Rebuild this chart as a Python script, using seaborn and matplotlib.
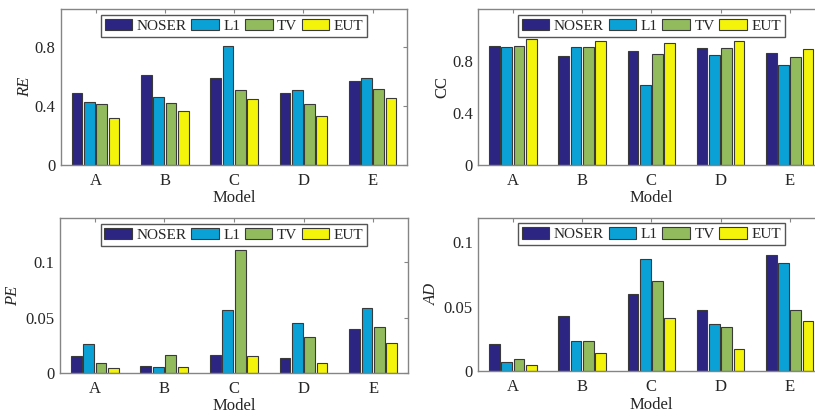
import matplotlib
matplotlib.use("Agg")
import matplotlib.pyplot as plt
import numpy as np
import pandas as pd
import seaborn as sns

# ---------------- data ----------------
models = ["A", "B", "C", "D", "E"]
methods = ["NOSER", "L1", "TV", "EUT"]
colors = ["#2c2582", "#0aa2d6", "#92bb5e", "#f4f40a"]

re_noser = [0.483, 0.610, 0.585, 0.489, 0.565]
re_l1 = [0.425, 0.460, 0.806, 0.507, 0.588]
re_tv = [0.411, 0.418, 0.507, 0.411, 0.512]
re_eut = [0.320, 0.362, 0.447, 0.331, 0.454]

cc_noser = [0.913, 0.836, 0.877, 0.898, 0.865]
cc_l1 = [0.906, 0.906, 0.614, 0.844, 0.772]
cc_tv = [0.913, 0.906, 0.857, 0.898, 0.831]
cc_eut = [0.970, 0.955, 0.937, 0.955, 0.895]

pe_noser = [0.0154, 0.0057, 0.0160, 0.0130, 0.0399]
pe_l1 = [0.0257, 0.0051, 0.0565, 0.0450, 0.0586]
pe_tv = [0.0088, 0.0157, 0.1109, 0.0326, 0.0411]
pe_eut = [0.0039, 0.0048, 0.0151, 0.0091, 0.0272]

ad_noser = [0.0207, 0.0427, 0.0598, 0.0477, 0.0899]
ad_l1 = [0.0070, 0.0231, 0.0873, 0.0368, 0.0837]
ad_tv = [0.0096, 0.0231, 0.0702, 0.0339, 0.0477]
ad_eut = [0.0044, 0.0142, 0.0415, 0.0171, 0.0391]

re_ticks = [0, 0.4, 0.8]
re_ticklabels = ["0", "0.4", "0.8"]
cc_ticks = [0, 0.4, 0.8]
cc_ticklabels = ["0", "0.4", "0.8"]
pe_ticks = [0, 0.05, 0.1]
pe_ticklabels = ["0", "0.05", "0.1"]
ad_ticks = [0, 0.05, 0.1]
ad_ticklabels = ["0", "0.05", "0.1"]

# ---------------- style ----------------
sns.set_theme(style="white")
plt.rcParams["font.family"] = ["Liberation Serif", "DejaVu Serif"]

TXT = "#262626"
SPINE = "#858585"


def make_df(series):
    rows = []
    for meth, vals in zip(methods, series):
        for m, v in zip(models, vals):
            rows.append({"Model": m, "Method": meth, "value": v})
    return pd.DataFrame(rows)


def draw(ax, series, ylabel, italic, ylim, ticks, ticklabels, lpad):
    df = make_df(series)
    sns.barplot(data=df, x="Model", y="value", hue="Method",
                order=models, hue_order=methods, palette=colors,
                saturation=1, width=0.71, gap=0.13,
                edgecolor="#3a3a3a", linewidth=0.8, ax=ax, errorbar=None)
    ax.set_xlim(-0.5, 4.5)
    ax.set_ylim(*ylim)
    ax.set_yticks(ticks)
    ax.set_yticklabels(ticklabels)
    ax.set_xlabel("Model", fontsize=12, color=TXT, labelpad=1)
    ax.set_ylabel(ylabel, fontsize=12, color=TXT,
                  fontstyle="italic" if italic else "normal", labelpad=lpad)
    ax.tick_params(axis="y", pad=4)
    ax.tick_params(axis="x", pad=6)
    ax.tick_params(axis="both", direction="in", top=True, right=True,
                   length=3, width=0.8, color=SPINE, labelsize=12,
                   labelcolor=TXT)
    for s in ax.spines.values():
        s.set_visible(True)
        s.set_color(SPINE)
        s.set_linewidth(1.0)
    handles, labels = ax.get_legend_handles_labels()
    leg = ax.get_legend()
    if leg is not None:
        leg.remove()
    lg = ax.legend(handles, labels, loc="upper center",
                   bbox_to_anchor=(0.5, 0.965), ncol=4, fontsize=11,
                   frameon=True, fancybox=False, framealpha=1,
                   edgecolor="#555555", handlelength=1.8,
                   handleheight=0.8, handletextpad=0.3,
                   columnspacing=0.3, borderpad=0.25,
                   borderaxespad=0.0)
    lg.get_frame().set_linewidth(1.0)
    for t in lg.get_texts():
        t.set_color(TXT)


fig = plt.figure(figsize=(8.15, 4.15), dpi=100)
ax1 = fig.add_axes([0.0748, 0.6031, 0.4249, 0.3745])
ax2 = fig.add_axes([0.5869, 0.6031, 0.4245, 0.3745])
ax3 = fig.add_axes([0.0736, 0.1019, 0.4270, 0.3720])
ax4 = fig.add_axes([0.5869, 0.1060, 0.4245, 0.3694])

draw(ax1, [re_noser, re_l1, re_tv, re_eut], "RE", True, (0, 1.054), re_ticks, re_ticklabels, 1)
draw(ax2, [cc_noser, cc_l1, cc_tv, cc_eut], "CC", False, (0, 1.2), cc_ticks, cc_ticklabels, 1)
draw(ax3, [pe_noser, pe_l1, pe_tv, pe_eut], "PE", True, (0, 0.14), pe_ticks, pe_ticklabels, 3)
draw(ax4, [ad_noser, ad_l1, ad_tv, ad_eut], "AD", True, (0, 0.119), ad_ticks, ad_ticklabels, 3)

fig.savefig("out.png", dpi=100, facecolor="white")
